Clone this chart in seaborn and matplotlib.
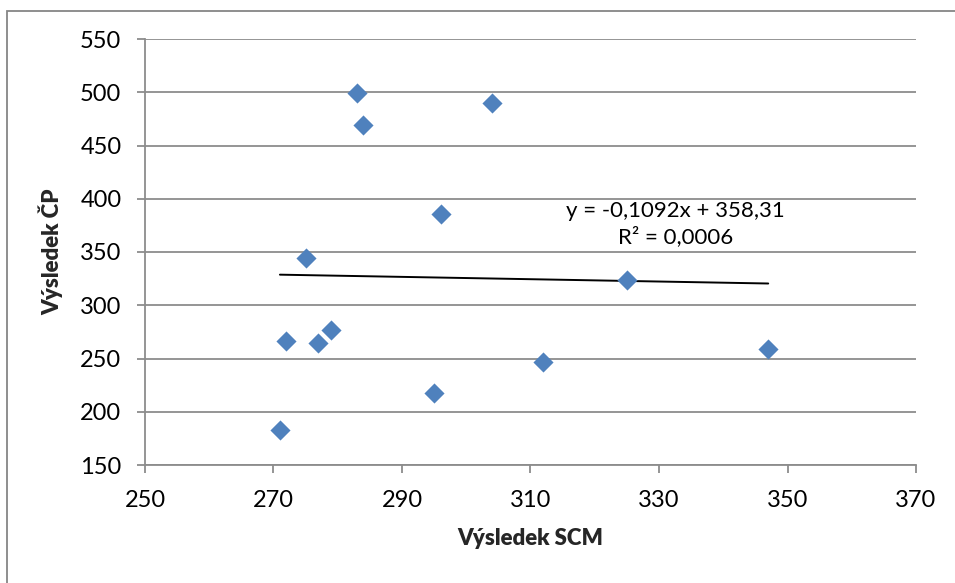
import matplotlib
matplotlib.use("Agg")
import matplotlib.pyplot as plt
import seaborn as sns
import pandas as pd
import numpy as np
from matplotlib.patches import Rectangle

# Data
scm = [283, 284, 304, 296, 275, 325, 272, 277, 279, 271, 295, 312, 347]
cp = [499, 469, 490, 386, 344, 324, 266, 265, 277, 183, 218, 247, 259]
slope = -0.1092
intercept = 358.31
x_ticks = [250, 270, 290, 310, 330, 350, 370]
y_ticks = [150, 200, 250, 300, 350, 400, 450, 500, 550]
eq_text = "y = -0,1092x + 358,31\nR² = 0,0006"

sns.set_theme(style="white")
plt.rcParams['font.family'] = ['Lato', 'DejaVu Sans']

W, H = 955, 583
fig = plt.figure(figsize=(W / 100, H / 100), dpi=100)
ax = fig.add_axes([145 / W, 1 - 465 / H, (916 - 145) / W, (465 - 39) / H])

# outer chart border (only left and top visible)
fig.patches.append(Rectangle((7 / W, -0.1), 1.2, 1 - 11 / H + 0.1, transform=fig.transFigure,
                             fill=False, edgecolor="#868686", linewidth=1.3, zorder=0))

df = pd.DataFrame({"scm": scm, "cp": cp})
sns.scatterplot(data=df, x="scm", y="cp", marker="D", s=105, color="#4F81BD",
                edgecolor="#4F81BD", linewidth=0, ax=ax, zorder=3)

xs = np.array([min(scm), max(scm)])
trend = pd.DataFrame({"x": xs, "y": slope * xs + intercept})
sns.lineplot(data=trend, x="x", y="y", color="black", linewidth=1.4, ax=ax, zorder=2)

ax.set_xlim(x_ticks[0], x_ticks[-1])
ax.set_ylim(y_ticks[0], y_ticks[-1])
ax.set_xticks(x_ticks)
ax.set_yticks(y_ticks)
ax.yaxis.grid(True, color="#8c8c8c", linewidth=1.3)
ax.xaxis.grid(False)
ax.set_axisbelow(True)

for s in ["top", "right"]:
    ax.spines[s].set_visible(False)
for s in ["left", "bottom"]:
    ax.spines[s].set_color("#8c8c8c")
    ax.spines[s].set_linewidth(1.3)

ax.tick_params(axis="x", direction="out", length=6, width=1.3, color="#8c8c8c",
               labelsize=17, labelcolor="black", pad=12, bottom=True)
ax.tick_params(axis="y", direction="out", length=6, width=1.3, color="#8c8c8c",
               labelsize=17, labelcolor="black", pad=11, left=True)

ax.set_xlabel("Výsledek SCM", fontsize=16, fontweight="heavy", labelpad=12)
ax.set_ylabel("Výsledek ČP", fontsize=16, fontweight="heavy", labelpad=12)

ax.text(332.6, 376.5, eq_text, ha="center", va="center", fontsize=16,
        linespacing=1.3, color="black")

fig.savefig("out.png", dpi=100)
